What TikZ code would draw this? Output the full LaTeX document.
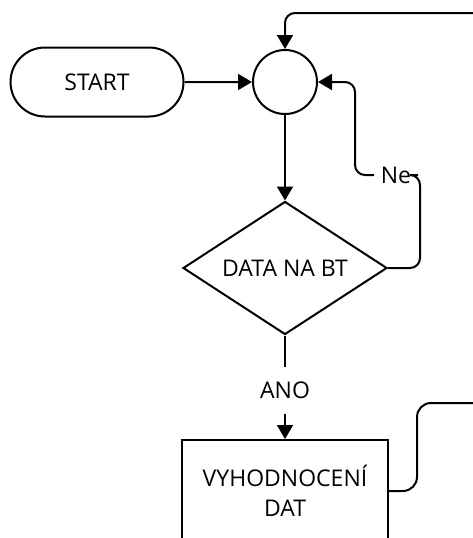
\documentclass[tikz,border=0pt]{standalone}
\usepackage{fontspec}
\setmainfont{Open Sans}
\usetikzlibrary{shapes.geometric,shapes.misc,arrows.meta}
\begin{document}
\begin{tikzpicture}[x=1pt,y=-1pt,
  line width=2pt,
  every node/.style={font=\fontsize{23}{30}\selectfont},
  flow/.style={draw, line width=2pt, rounded corners=10pt},
  arr/.style={-{Triangle[length=14pt,width=16pt]}},
  term/.style={draw, line width=2pt, rounded rectangle, minimum width=173pt, minimum height=69pt, inner sep=0pt},
  junc/.style={draw, line width=2pt, circle, minimum size=64pt, inner sep=0pt},
  dec/.style={draw, line width=2pt, diamond, aspect=1.53, minimum width=204pt, minimum height=133pt, inner sep=0pt},
  proc/.style={draw, line width=2pt, rectangle, minimum width=206pt, minimum height=102pt, align=center, inner sep=0pt},
  lbl/.style={fill=white, inner sep=0pt}
]
\useasboundingbox (0,0) rectangle (473,538);
\clip (0,0) rectangle (473,538);
\node[term] (start) at (97,82) {START};
\node[junc] (circ) at (285,82) {};
\node[dec] (dia) at (285,268) {DATA NA BT};
\node[proc] (box) at (285,491) {VYHODNOCENÍ\\DAT};
\node[lbl, minimum height=45pt] (ano) at (285,390) {ANO};
\node[lbl, minimum width=42pt] (ne) at (396,175) {Ne};
\coordinate (topin) at (490,13);
\coordinate (rightout) at (490,403);

\draw[arr] (start) -- (circ);
\draw[arr] (circ) -- (dia.north);
\draw[flow, arr] (topin) -- (285,13) -- (circ.north);
\draw[flow] (dia.east) -- (420,268) -- (420,175) -- (ne.east);
\draw[flow, arr] (ne.west) -- (355,175) -- (355,82) -- (circ.east);
\draw (dia.south) -- (ano.north);
\draw[arr] (ano.south) -- (box.north);
\draw[flow, rounded corners=14pt] (box.east) -- (417,491) -- (417,403) -- (rightout);
\end{tikzpicture}
\end{document}
